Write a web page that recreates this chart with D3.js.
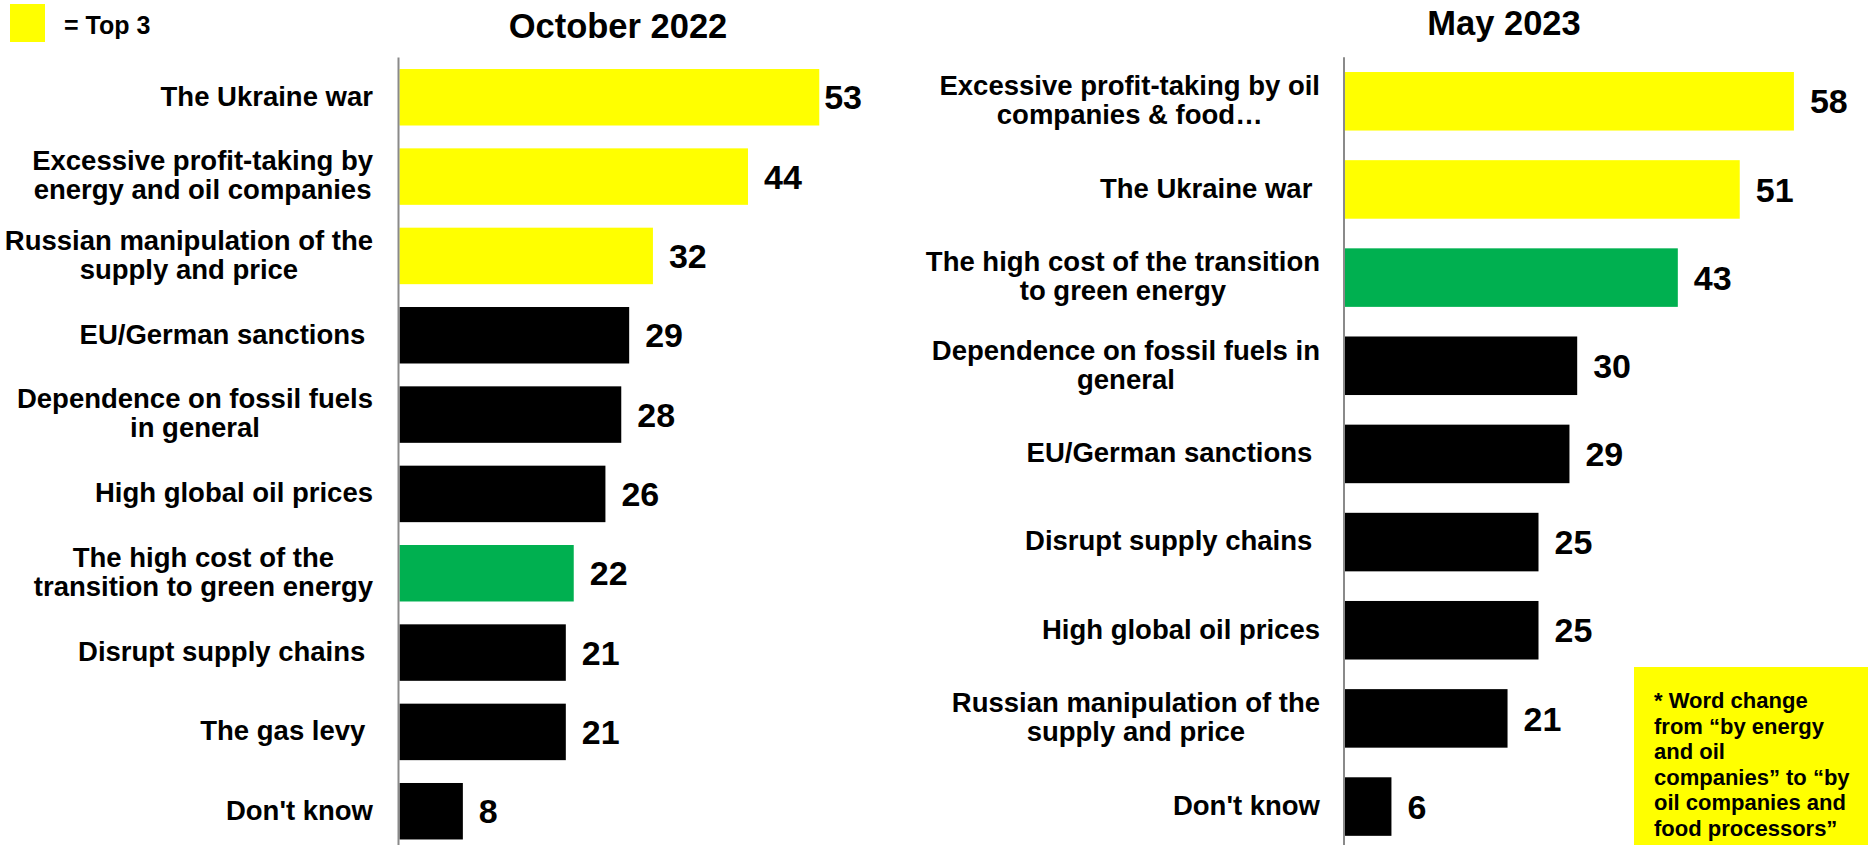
<!DOCTYPE html>
<html>
<head>
<meta charset="utf-8">
<script src="https://cdn.jsdelivr.net/npm/d3@7"></script>
<style>
  html, body { margin: 0; padding: 0; background: #ffffff; }
  svg { display: block; font-family: "Liberation Sans", Arial, sans-serif; font-weight: bold; }
  text { white-space: pre; }
</style>
</head>
<body>
<svg id="chart" width="1868" height="845"></svg>
<script>
// ---- Data ----------------------------------------------------------------
const octTitle = "October 2022";
const octCategories = [
  ["The Ukraine war"],
  ["Excessive profit-taking by", "energy and oil companies"],
  ["Russian manipulation of the", "supply and price"],
  ["EU/German sanctions "],
  ["Dependence on fossil fuels", "in general"],
  ["High global oil prices"],
  ["The high cost of the", "transition to green energy"],
  ["Disrupt supply chains "],
  ["The gas levy "],
  ["Don't know"]
];
const octValues = [53, 44, 32, 29, 28, 26, 22, 21, 21, 8];

const mayTitle = "May 2023";
const mayCategories = [
  ["Excessive profit-taking by oil", "companies & food\u2026"],
  ["The Ukraine war "],
  ["The high cost of the transition", "to green energy"],
  ["Dependence on fossil fuels in", "general"],
  ["EU/German sanctions "],
  ["Disrupt supply chains "],
  ["High global oil prices"],
  ["Russian manipulation of the", "supply and price"],
  ["Don't know"]
];
const mayValues = [58, 51, 43, 30, 29, 25, 25, 21, 6];

const legendLabel = "= Top 3";
const noteLines = [
  "* Word change",
  "from \u201cby energy",
  "and oil",
  "companies\u201d to \u201cby",
  "oil companies and",
  "food processors\u201d"
];

// ---- Styling ---------------------------------------------------------------
const YELLOW = "#FFFF00";
const GREEN = "#00B050";
const BLACK = "#000000";
const AXIS_GREY = "#8a8a8a";

const svg = d3.select("#chart");
svg.append("rect").attr("width", 1868).attr("height", 845).attr("fill", "#fff");

// Top three by rank are yellow, the green-transition item is green, the rest black
function barColor(lines, rank) {
  if (lines.join(" ").includes("green energy")) return GREEN;
  if (rank < 3) return YELLOW;
  return BLACK;
}

function drawPanel(opts) {
  const { title, titleX, titleY, categories, values, xStart, pxPerUnit,
          yTop, step, padInner, labelRight, plotRight } = opts;
  const n = values.length;
  const g = svg.append("g");

  const x = d3.scaleLinear().domain([0, 60]).range([xStart, xStart + 60 * pxPerUnit]);
  const y = d3.scaleBand()
    .domain(d3.range(n))
    .range([yTop, yTop + n * step])
    .paddingInner(padInner)
    .paddingOuter(padInner / 2);
  const bw = y.bandwidth();

  // Panel title
  g.append("text")
    .attr("x", titleX).attr("y", titleY)
    .attr("text-anchor", "middle")
    .attr("font-size", 34.5)
    .attr("fill", "#000")
    .text(title);

  // Bars
  g.selectAll("rect.bar")
    .data(values)
    .join("rect")
    .attr("class", "bar")
    .attr("x", x(0))
    .attr("y", (d, i) => y(i))
    .attr("width", d => x(d) - x(0))
    .attr("height", bw)
    .attr("fill", (d, i) => barColor(categories[i], i));

  // Category axis line
  g.append("line")
    .attr("x1", xStart - 1).attr("x2", xStart - 1)
    .attr("y1", y.range()[0]).attr("y2", 845)
    .attr("stroke", AXIS_GREY)
    .attr("stroke-width", 2);

  // Category labels: lines centred on one another, block right-aligned
  const fs = 27.5, lineH = 29, cap = 0.716 * fs;
  categories.forEach((lines, i) => {
    const t = g.append("text")
      .attr("xml:space", "preserve")
      .attr("font-size", fs)
      .attr("fill", "#000")
      .attr("text-anchor", "middle");
    const spans = lines.map(s => t.append("tspan").text(s));
    const maxW = d3.max(spans, s => s.node().getComputedTextLength());
    const cx = labelRight - maxW / 2;
    const mid = y(i) + bw / 2 - 1.5;
    const first = mid - (cap + (lines.length - 1) * lineH) / 2 + cap;
    spans.forEach((s, k) => s.attr("x", cx).attr("y", first + k * lineH));
  });

  // Value labels
  const vfs = 34, vcap = 0.716 * vfs;
  values.forEach((v, i) => {
    const t = g.append("text")
      .attr("font-size", vfs)
      .attr("fill", "#000")
      .attr("y", y(i) + bw / 2 + vcap / 2)
      .text(v);
    const w = t.node().getComputedTextLength();
    t.attr("x", Math.min(x(v) + 16, plotRight - w));
  });
}

drawPanel({
  title: octTitle, titleX: 618, titleY: 37.5,
  categories: octCategories, values: octValues,
  xStart: 399.5, pxPerUnit: 7.92,
  yTop: 57.6, step: 79.33, padInner: 0.288,
  labelRight: 373, plotRight: 862
});

drawPanel({
  title: mayTitle, titleX: 1504, titleY: 35,
  categories: mayCategories, values: mayValues,
  xStart: 1345, pxPerUnit: 7.74,
  yTop: 57.2, step: 88.16, padInner: 0.336,
  labelRight: 1320, plotRight: 1868
});

// Legend swatch
svg.append("rect")
  .attr("x", 10).attr("y", 4).attr("width", 35).attr("height", 38)
  .attr("fill", YELLOW);
svg.append("text")
  .attr("x", 64).attr("y", 33.5)
  .attr("font-size", 25)
  .attr("fill", "#000")
  .text(legendLabel);

// Footnote box
svg.append("rect")
  .attr("x", 1634).attr("y", 667).attr("width", 234).attr("height", 178)
  .attr("fill", YELLOW);
const note = svg.append("text")
  .attr("font-size", 22)
  .attr("fill", "#000");
noteLines.forEach((s, k) => {
  note.append("tspan").attr("x", 1654).attr("y", 708 + k * 25.5).text(s);
});
</script>
</body>
</html>
